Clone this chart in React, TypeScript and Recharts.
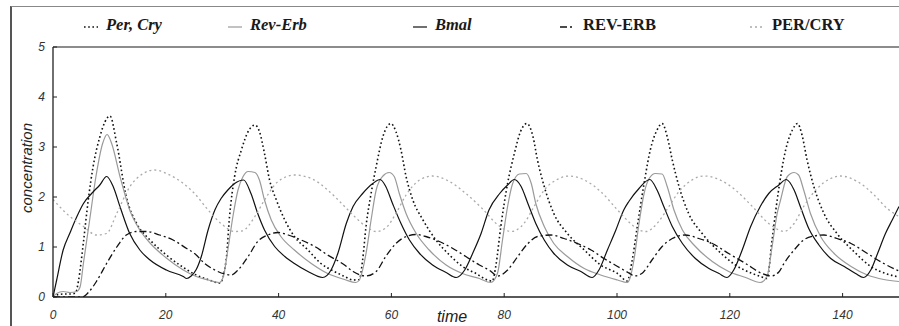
import { LineChart, Line, XAxis, YAxis, ReferenceLine } from "recharts";

// [time, concentration]
const perCry: [number, number][] = [
  [0, 0], [1, 0.05], [2, 0.06], [3, 0.06], [4, 0.08], [4.5, 0.31], [5.4, 1.1], [6.25, 1.94],
  [7.1, 2.6], [8.3, 3.2], [9.2, 3.5], [10.1, 3.62], [11.3, 3.07], [13, 2.0], [14.8, 1.48],
  [17.2, 1.14], [20.1, 0.84], [23, 0.6], [25.4, 0.44], [27.5, 0.35], [29.6, 0.28], [30.7, 0.74],
  [31.3, 1.61], [32.2, 2.41], [33.4, 2.94], [34.6, 3.31], [35.8, 3.44], [36.6, 3.31], [37.5, 2.87],
  [38.4, 2.34], [39.6, 1.94], [41.1, 1.54], [42.8, 1.21], [45.2, 0.94], [47.5, 0.67], [49.9, 0.51],
  [51.7, 0.41], [53.2, 0.34], [54.3, 0.35], [54.9, 0.74], [55.5, 1.41], [56.4, 2.07], [57.3, 2.61],
  [58.5, 3.21], [59.9, 3.47], [60.8, 3.31], [61.7, 2.94], [62.6, 2.41], [63.8, 1.94], [65.6, 1.54],
  [67.9, 1.14], [70.3, 0.84], [72.6, 0.61], [75.0, 0.47], [77.3, 0.33], [77.9, 0.32], [78.5, 0.61],
  [79.4, 1.41], [80.6, 2.27], [81.8, 2.87], [82.9, 3.31], [84.0, 3.47], [85.1, 3.21], [85.9, 2.74],
  [87.1, 2.21], [88.8, 1.67], [91.2, 1.27], [94.2, 0.94], [97.1, 0.64], [100.1, 0.47], [101.8, 0.32],
  [102.7, 0.74], [103.6, 1.41], [104.8, 2.27], [105.9, 2.94], [107.1, 3.34], [108.0, 3.47],
  [108.9, 3.21], [109.8, 2.74], [111.0, 2.21], [112.7, 1.67], [115.1, 1.27], [118.1, 0.91],
  [121.0, 0.64], [124.0, 0.47], [125.7, 0.4], [126.6, 0.37], [127.5, 1.14], [128.4, 1.94],
  [129.9, 2.94], [131.1, 3.34], [132.0, 3.47], [132.8, 3.24], [133.7, 2.74], [134.9, 2.21],
  [136.7, 1.67], [139.0, 1.27], [142.0, 0.91], [145.0, 0.61], [147.9, 0.46], [150, 0.4],
];

const revErb: [number, number][] = [
  [0, 0], [0.65, 0.07], [1.8, 0.11], [3, 0.09], [4.2, 0.11], [4.8, 0.2], [5.4, 0.68], [6.5, 1.54],
  [7.6, 2.4], [8.8, 3.07], [9.6, 3.25], [10.4, 3.07], [11.9, 2.4], [13.6, 1.74], [15.4, 1.34],
  [17.2, 1.08], [20.1, 0.78], [23.1, 0.54], [25.4, 0.41], [27.5, 0.34], [29.5, 0.29], [30.2, 0.41],
  [31.0, 0.94], [31.9, 1.61], [32.8, 2.14], [33.7, 2.41], [34.6, 2.51], [35.8, 2.49], [36.6, 2.34],
  [37.5, 1.94], [38.7, 1.54], [40.4, 1.21], [42.8, 0.94], [45.8, 0.67], [48.7, 0.47], [51.7, 0.35],
  [53.7, 0.29], [54.3, 0.34], [55.5, 0.87], [56.4, 1.54], [57.3, 2.14], [58.5, 2.42], [59.6, 2.49],
  [60.5, 2.41], [61.4, 2.07], [62.6, 1.67], [64.4, 1.27], [66.7, 0.94], [69.7, 0.64], [72.6, 0.47],
  [75.6, 0.37], [77.6, 0.29], [78.8, 0.47], [79.7, 1.14], [80.6, 1.81], [81.5, 2.27], [82.7, 2.46],
  [83.9, 2.47], [84.8, 2.27], [85.6, 1.87], [87.1, 1.41], [88.8, 1.07], [91.2, 0.81], [94.2, 0.57],
  [97.1, 0.44], [100.1, 0.34], [101.8, 0.29], [102.4, 0.41], [103.0, 0.74], [103.9, 1.47],
  [104.8, 2.07], [105.7, 2.37], [106.8, 2.47], [108.0, 2.46], [108.9, 2.21], [110.1, 1.74],
  [111.6, 1.34], [113.9, 1.01], [116.9, 0.71], [119.8, 0.51], [122.8, 0.39], [125.4, 0.29],
  [126.6, 0.41], [127.5, 1.01], [128.4, 1.67], [129.0, 1.94], [130.2, 2.41], [131.4, 2.49],
  [132.2, 2.44], [133.1, 2.14], [134.3, 1.67], [136.1, 1.21], [138.5, 0.87], [141.5, 0.61],
  [144.4, 0.44], [147.3, 0.35], [150, 0.31],
];

const bmal: [number, number][] = [
  [0, 0], [0.65, 0.34], [1.8, 0.94], [3, 1.28], [4.2, 1.6], [5.4, 1.87], [7.1, 2.1], [8.3, 2.24],
  [9.5, 2.41], [10.7, 2.2], [11.9, 1.8], [13.6, 1.27], [15.4, 0.94], [17.2, 0.74], [20.1, 0.54],
  [23.1, 0.41], [23.7, 0.37], [24.5, 0.42], [25.4, 0.55], [26.3, 0.81], [27.5, 1.34], [28.7, 1.74],
  [29.8, 1.97], [31, 2.14], [32.2, 2.27], [33.8, 2.34], [35.1, 2.07], [36.3, 1.67], [37.5, 1.34],
  [39.3, 1.01], [41.1, 0.81], [42.8, 0.67], [45.2, 0.51], [47.8, 0.39], [49.3, 0.54], [50.5, 0.87],
  [52.0, 1.47], [53.2, 1.81], [54.9, 2.07], [56.7, 2.27], [58.0, 2.35], [59.0, 2.21], [60.2, 1.87],
  [61.7, 1.47], [63.2, 1.14], [65.0, 0.87], [67.3, 0.64], [69.7, 0.49], [71.5, 0.39], [73.0, 0.54],
  [74.4, 0.87], [75.9, 1.27], [77.3, 1.74], [79.2, 2.07], [80.6, 2.24], [81.8, 2.35], [83.0, 2.21],
  [84.2, 1.87], [85.6, 1.47], [87.1, 1.14], [88.8, 0.87], [91.2, 0.64], [93.6, 0.51], [95.6, 0.39],
  [96.8, 0.54], [98.3, 0.94], [99.8, 1.34], [101.2, 1.74], [102.1, 1.91], [103.9, 2.17],
  [105.8, 2.35], [107.1, 2.14], [108.3, 1.81], [109.8, 1.41], [111.6, 1.07], [113.9, 0.77],
  [116.3, 0.57], [118.1, 0.47], [119.5, 0.39], [120.7, 0.54], [122.2, 0.94], [123.7, 1.41],
  [125.4, 1.81], [126.9, 2.07], [128.7, 2.24], [130.0, 2.35], [131.4, 2.14], [132.5, 1.81],
  [134.0, 1.37], [135.8, 1.04], [137.9, 0.77], [140.3, 0.61], [142.3, 0.47], [143.7, 0.39],
  [145.0, 0.54], [146.2, 0.87], [147.6, 1.27], [148.8, 1.54], [150, 1.81],
];

const revErbProtein: [number, number][] = [
  [0, 0], [5.2, 0], [6.5, 0.12], [7.7, 0.31], [9.5, 0.67], [11.3, 1.0], [13, 1.24], [14.8, 1.31],
  [16.6, 1.31], [18.9, 1.24], [21.3, 1.14], [23.7, 0.97], [25.1, 0.87], [26.9, 0.67], [28.7, 0.54],
  [30.4, 0.46], [31.6, 0.44], [32.8, 0.54], [34.6, 0.81], [36.3, 1.11], [38.1, 1.24], [39.9, 1.29],
  [41.7, 1.24], [44.0, 1.14], [46.4, 1.01], [48.7, 0.84], [51.7, 0.64], [53.2, 0.51], [55.5, 0.42],
  [57.3, 0.51], [59.0, 0.81], [60.8, 1.07], [62.6, 1.21], [64.4, 1.25], [66.1, 1.21], [68.5, 1.11],
  [70.9, 0.97], [73.2, 0.81], [75.6, 0.64], [77.3, 0.54], [78.9, 0.42], [80.6, 0.54], [82.4, 0.81],
  [84.2, 1.07], [85.9, 1.21], [88.3, 1.24], [90.6, 1.17], [93.0, 1.07], [95.4, 0.94], [97.7, 0.77],
  [100.1, 0.61], [102.4, 0.46], [103.0, 0.42], [104.4, 0.47], [106.2, 0.74], [108.0, 1.01],
  [109.8, 1.17], [112.1, 1.24], [114.5, 1.17], [116.9, 1.07], [119.8, 0.87], [122.8, 0.67],
  [125.7, 0.47], [127.3, 0.42], [128.7, 0.5], [129.6, 0.67], [131.4, 0.94], [133.1, 1.14],
  [134.9, 1.22], [136.7, 1.24], [139.0, 1.17], [141.5, 1.07], [144.4, 0.87], [147.3, 0.67],
  [150, 0.52],
];

const perCryProtein: [number, number][] = [
  [0, 1.95], [2.4, 1.67], [5.4, 1.41], [7.7, 1.24], [9.5, 1.27], [11.3, 1.67], [13.6, 2.2],
  [16, 2.47], [18, 2.54], [20.7, 2.44], [23.1, 2.27], [25.1, 2.07], [27.5, 1.74], [29.8, 1.47],
  [32.2, 1.31], [33.5, 1.32], [35.8, 1.61], [37.5, 1.94], [39.9, 2.31], [42.8, 2.44], [45.8, 2.37],
  [48.7, 2.14], [51.7, 1.81], [53.2, 1.64], [55.5, 1.41], [57.3, 1.31], [59.0, 1.38], [60.8, 1.67],
  [62.6, 2.04], [65.0, 2.34], [67.3, 2.42], [70.3, 2.31], [73.2, 2.07], [76.1, 1.77], [78.9, 1.44],
  [81.2, 1.31], [83.5, 1.47], [85.3, 1.81], [87.1, 2.14], [89.4, 2.35], [91.5, 2.42], [94.2, 2.34],
  [97.1, 2.11], [100.1, 1.74], [102.4, 1.47], [103.9, 1.34], [105.1, 1.31], [107.4, 1.51],
  [109.2, 1.81], [111.0, 2.11], [113.3, 2.34], [115.4, 2.42], [118.1, 2.35], [121.0, 2.14],
  [124.0, 1.81], [126.9, 1.47], [128.7, 1.34], [129.6, 1.31], [131.4, 1.47], [133.1, 1.81],
  [135.5, 2.17], [137.9, 2.37], [139.6, 2.42], [142.6, 2.31], [145.6, 2.04], [147.9, 1.77],
  [150, 1.61],
];

const xTicks = [0, 20, 40, 60, 80, 100, 120, 140];
const yTicks = [0, 1, 2, 3, 4, 5];

const toRows = (pts: [number, number][]) => pts.map(([t, v]) => ({ t, v }));

const SERIES = [
  { name: "Per, Cry", pts: perCry, color: "#111", width: 1.6, dash: "1.6 2.6", italic: true },
  { name: "Rev-Erb", pts: revErb, color: "#9a9a9a", width: 1.2, dash: undefined, italic: true },
  { name: "Bmal", pts: bmal, color: "#111", width: 1.2, dash: undefined, italic: true },
  { name: "REV-ERB", pts: revErbProtein, color: "#111", width: 1.3, dash: "7 3 2 3", italic: false },
  { name: "PER/CRY", pts: perCryProtein, color: "#aaa", width: 1.3, dash: "2 3", italic: false },
];

// legend slots: sample start x, text start x
const LEGEND_POS = [
  [84, 106],
  [228, 250],
  [413, 435],
  [560, 583],
  [750, 772],
];

const SANS = "'Liberation Sans', Arial, sans-serif";
const SERIF = "'Liberation Serif', 'Times New Roman', 'DejaVu Serif', serif";

const tickFont = { fontSize: 12, fontStyle: "italic", fill: "#333", fontFamily: SANS };

function YLabel(props: any) {
  const vb = props.viewBox || { x: 0, y: 47, height: 250 };
  const cx = vb.x + 26;
  const cy = vb.y + vb.height / 2 - 4;
  return (
    <text
      x={cx}
      y={cy}
      transform={`rotate(-90 ${cx} ${cy})`}
      textAnchor="middle"
      dominantBaseline="central"
      style={{ fontSize: 15, fontStyle: "italic", fill: "#222", fontFamily: SANS }}
    >
      concentration
    </text>
  );
}

export default function App() {
  return (
    <div style={{ position: "absolute", left: 0, top: 0, width: 899, height: 326, background: "#fff", overflow: "hidden" }}>
      {/* outer frame */}
      <div style={{ position: "absolute", left: 10, top: 6, width: 889, height: 320, borderLeft: "2px solid #555", borderTop: "1.5px solid #888" }} />

      {/* legend */}
      {SERIES.map((s, i) => (
        <div key={s.name} style={{ position: "absolute", left: LEGEND_POS[i][0], top: 14, height: 24 }}>
          <svg width={16} height={24} style={{ position: "absolute", left: 0, top: 0 }}>
            <line x1={0} x2={14} y1={13} y2={13} stroke={s.color} strokeWidth={s.width} strokeDasharray={s.dash} />
          </svg>
          <span
            style={{
              position: "absolute",
              left: LEGEND_POS[i][1] - LEGEND_POS[i][0],
              top: 1,
              whiteSpace: "nowrap",
              fontFamily: SERIF,
              fontWeight: "bold",
              fontStyle: s.italic ? "italic" : "normal",
              fontSize: 16.5,
              color: "#1a1a1a",
            }}
          >
            {s.name}
          </span>
        </div>
      ))}

      <div style={{ position: "absolute", left: 0, top: 0 }}>
        <LineChart width={899} height={326} margin={{ top: 47, right: 0, bottom: 0, left: 0 }}>
          <XAxis
            type="number"
            dataKey="t"
            domain={[0, 150]}
            ticks={xTicks}
            allowDataOverflow
            height={29}
            tickSize={-4}
            tickMargin={17}
            stroke="#222"
            tickLine={{ stroke: "#222" }}
            axisLine={{ stroke: "#222", strokeWidth: 1.3 }}
            tick={tickFont}
            label={{
              value: "time",
              position: "insideBottom",
              offset: 4,
              dx: -24,
              style: { fontSize: 16, fontStyle: "italic", fill: "#222", fontFamily: SANS },
            }}
          />
          <YAxis
            type="number"
            domain={[0, 5]}
            ticks={yTicks}
            allowDataOverflow
            width={53}
            tickSize={-4}
            tickMargin={12}
            tickLine={{ stroke: "#222" }}
            axisLine={{ stroke: "#222", strokeWidth: 1.3 }}
            tick={tickFont}
            label={<YLabel />}
          />
          <ReferenceLine y={5} stroke="#666" strokeWidth={1.5} />
          {SERIES.map((s) => (
            <Line
              key={s.name}
              data={toRows(s.pts)}
              dataKey="v"
              name={s.name}
              type="monotone"
              stroke={s.color}
              strokeWidth={s.width}
              strokeDasharray={s.dash}
              dot={false}
              activeDot={false}
              isAnimationActive={false}
            />
          ))}
        </LineChart>
      </div>
    </div>
  );
}
